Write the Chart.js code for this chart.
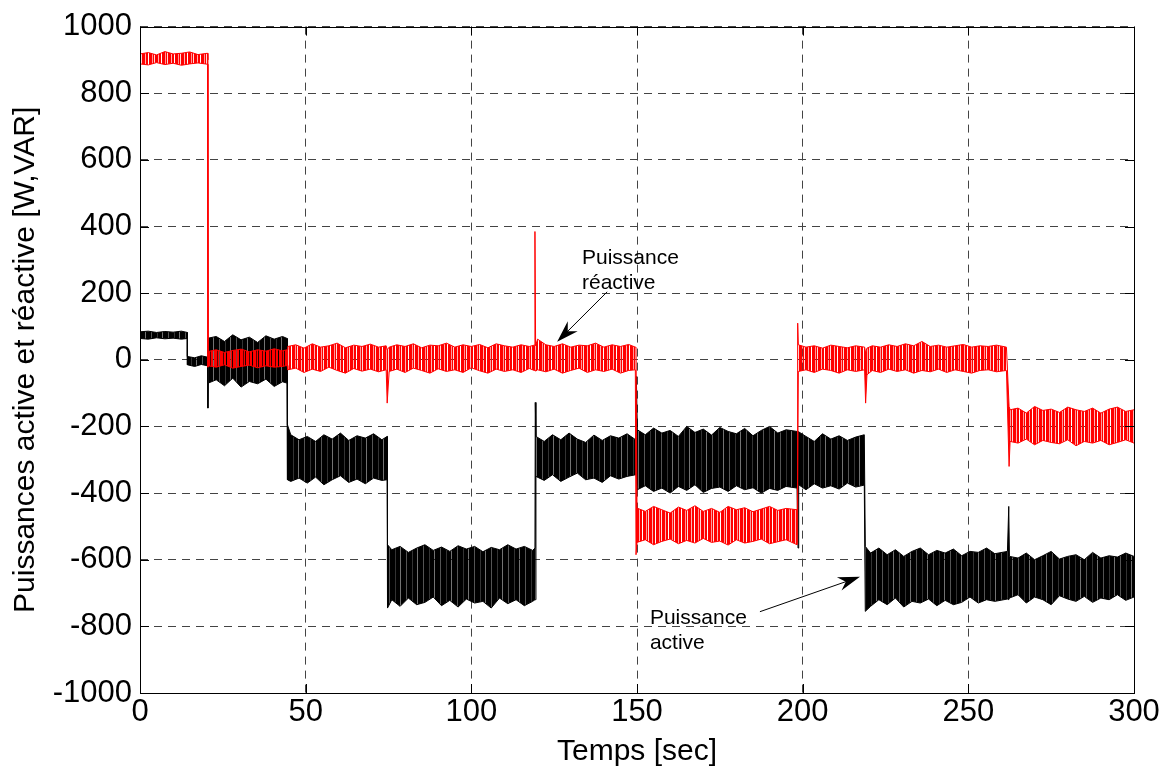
<!DOCTYPE html>
<html>
<head>
<meta charset="utf-8">
<script src="https://cdn.jsdelivr.net/npm/chart.js@4"></script>
<style>
	html, body { margin: 0; background: #fff; }
</style>
</head>
<body>
<canvas id="power-chart" width="1166" height="772"></canvas>
<script>
// axis ticks
const xTicks = [0, 50, 100, 150, 200, 250, 300];
const yTicks = [-1000, -800, -600, -400, -200, 0, 200, 400, 600, 800, 1000];

// Puissance active (black): noise band read as upper / lower envelope, [s] and [W]
const activeTime = [
	0, 2.5, 5, 7.5, 10, 12.5, 14.3,
	14.3, 16.5, 18.5, 20.4,
	20.5,
	20.6, 23, 25.5, 28, 30.5, 33, 35.5, 38, 40.5, 43, 44.4,
	44.5, 45.5, 48, 50.5, 53, 55.5, 58, 60.5, 63, 65.5, 68, 70.5, 73, 74.6,
	74.7, 76, 78.5, 81, 83.5, 86, 88.5, 91, 93.5, 96, 98.5, 101, 103.5, 106, 108.5, 111, 113.5, 116, 118.5, 119.2,
	119.3,
	119.5, 122, 124.5, 127, 129.5, 132, 134.5, 137, 139.5, 142, 144.5, 147, 149.6,
	149.8,
	150.1, 152.5, 155, 157.5, 160, 162.5, 165, 167.5, 170, 172.5, 175, 177.5, 180, 182.5, 185, 187.5, 190, 192.5, 195, 198.3,
	198.6,
	198.8, 201, 203.5, 206, 208.5, 211, 213.5, 216, 218.6,
	218.9, 220.5, 223, 225.5, 228, 230.5, 233, 235.5, 238, 240.5, 243, 245.5, 248, 250.5, 253, 255.5, 258, 261.8,
	262.2,
	262.4, 265, 267.5, 270, 272.5, 275, 277.5, 280, 282.5, 285, 287.5, 290, 292.5, 295, 297.5, 300
];
const activeHigh = [
	84, 86, 82, 85, 83, 86, 82,
	10, 6, 12, 8,
	8,
	65, 70, 55, 75, 60, 68, 52, 72, 62, 70, 64,
	-195, -225, -240, -230, -245, -225, -238, -220, -242, -228, -235, -222, -240, -230,
	-555, -570, -560, -578, -565, -555, -572, -562, -575, -558, -568, -560, -576, -563, -570, -555, -568, -560, -572, -565,
	-128,
	-230, -245, -225, -240, -220, -238, -248, -226, -242, -228, -235, -222, -240,
	-50,
	-210, -225, -205, -220, -212, -230, -200, -218, -208, -226, -203, -215, -222, -206, -228, -212, -200, -220, -210, -215,
	-215,
	-215, -230, -245, -222, -238, -228, -242, -232, -225,
	-560, -580, -565, -585, -570, -590, -575, -565, -585, -572, -580, -568, -588, -575, -578, -565, -582, -575,
	-440,
	-590, -595, -580, -600, -588, -575, -598, -590, -585, -600, -578, -595, -588, -592, -580, -590
];
const activeLow = [
	64, 62, 66, 63, 65, 62, 64,
	-15, -20, -14, -18,
	-145,
	-70, -60, -78, -55, -82, -65, -72, -58, -80, -66, -70,
	-360, -365, -355, -370, -352, -375, -360, -348, -368, -358, -372, -355, -362, -360,
	-745, -720, -740, -715, -735, -728, -712, -738, -722, -742, -718, -730, -725, -745, -715, -732, -720, -738, -725, -720,
	-720,
	-350, -362, -345, -365, -352, -340, -360, -355, -368, -348, -358, -350, -345,
	-345,
	-390, -378, -395, -385, -400, -380, -392, -375, -398, -386, -382, -395, -378, -390, -384, -400, -386, -392, -380, -385,
	-565,
	-375, -390, -372, -385, -378, -388, -370, -382, -376,
	-755, -740, -720, -735, -715, -742, -725, -730, -718, -738, -722, -735, -728, -712, -730, -720, -725, -718,
	-720,
	-715, -705, -730, -712, -720, -735, -708, -718, -725, -710, -728, -715, -720, -705, -722, -712
];

// Puissance réactive (red), [s] and [VAR]
const reactiveTime = [
	0, 2.5, 5, 7.5, 10, 12.5, 15, 17.5, 20.4,
	20.5,
	20.6, 23, 25.5, 28, 30.5, 33, 35.5, 38, 40.5, 43, 44.4,
	44.6, 47, 49.5, 52, 54.5, 57, 59.5, 62, 64.5, 67,
	69.5, 72, 74.3, 74.6, 75.2, 77.5, 80, 82.5, 85, 87.5,
	90, 92.5, 95, 97.5, 100, 102.5, 105, 107.5, 110, 112.5,
	115, 117.5, 119, 119.2, 119.4, 120, 122.5, 125, 127.5, 130,
	132.5, 135, 137.5, 140, 142.5, 145, 147.5, 149.5,
	149.7,
	150, 152.5, 155, 157.5, 160, 162.5, 165, 167.5, 170, 172.5, 175, 177.5, 180, 182.5, 185, 187.5, 190, 192.5, 195, 198.3,
	198.5,
	198.7, 201, 203.5, 206, 208.5, 211, 213.5, 216, 218.7, 219,
	219.4, 221, 223.5, 226, 228.5, 231, 233.5, 236, 238.5, 241,
	243.5, 246, 248.5, 251, 253.5, 256, 258.5, 261.5,
	262.3,
	262.6, 265, 267.5, 270, 272.5, 275, 277.5, 280, 282.5, 285, 287.5, 290, 292.5, 295, 297.5, 300
];
const reactiveHigh = [
	918, 922, 915, 925, 918, 920, 924, 916, 920,
	900,
	25, 30, 22, 28, 32, 24, 30, 26, 33, 27, 30,
	40, 45, 35, 48, 38, 42, 50, 36, 44, 40,
	47, 38, 42, 30, 38, 45, 40, 48, 36, 44,
	42, 50, 38, 45, 40, 46, 36, 48, 42, 38,
	45, 40, 44, 385, 42, 62, 45, 40, 48, 38,
	44, 42, 50, 38, 45, 40, 46, 38,
	38,
	-445, -455, -440, -450, -460, -442, -452, -438, -455, -446, -458, -440, -450, -444, -456, -448, -440, -452, -446, -450,
	110,
	45, 38, 42, 35, 44, 40, 36, 42, 38, 20,
	35, 42, 38, 45, 40, 48, 42, 55, 40, 44,
	38, 42, 46, 38, 42, 40, 44, 38,
	-140,
	-150, -145, -160, -140, -152, -148, -158, -142, -150, -155, -145, -160, -148, -142, -155, -150
];
const reactiveLow = [
	888, 885, 892, 886, 890, 884, 888, 891, 887,
	-22,
	-18, -22, -15, -25, -20, -16, -24, -18, -22, -20, -17,
	-30, -25, -38, -28, -35, -22, -32, -40, -26, -34,
	-28, -36, -30, -130, -35, -28, -38, -25, -32, -40,
	-27, -35, -30, -38, -24, -33, -40, -28, -35, -30,
	-38, -26, -32, -30, -34, -30, -36, -28, -40, -32,
	-25, -38, -30, -35, -28, -40, -32, -30,
	-585,
	-548, -540, -555, -545, -538, -552, -542, -550, -536, -548, -544, -556, -540, -550, -545, -538, -552, -546, -540, -555,
	-555,
	-35, -30, -38, -28, -32, -40, -30, -35, -30, -130,
	-45, -32, -38, -28, -35, -30, -40, -32, -36, -28,
	-38, -30, -35, -40, -32, -30, -36, -32,
	-320,
	-245, -250, -238, -255, -242, -248, -252, -240, -258, -245, -250, -242, -255, -248, -240, -250
];

// text labels with arrows, in data units: [time, value]
const notes = [
	{ lines: ['Puissance', 'réactive'], at: [133.4, 306], from: [141, 204], to: [125.9, 54] },
	{ lines: ['Puissance', 'active'], at: [153.9, -777], from: [187.1, -756], to: [217.3, -651] }
];

const FONT = "'Liberation Sans', Arial, Helvetica, sans-serif";
const canvas = document.getElementById('power-chart');
const ctx = canvas.getContext('2d');

// vertical streaks so the filled bands look like dense noisy traces
function streaks(cols) {
	const c = document.createElement('canvas');
	c.width = cols.length;
	c.height = 1;
	const g = c.getContext('2d');
	cols.forEach((col, i) => {
		g.fillStyle = col;
		g.fillRect(i, 0, 1, 1);
	});
	return ctx.createPattern(c, 'repeat');
}
const K = '#000', R = '#f00';
const blackFill = streaks([K, K, K, K, '#333', K, K, K, K, 'rgba(0,0,0,0.55)', K, K, K, K, K, '#555', K]);
const redFill = streaks([R, R, 'rgba(255,0,0,0.3)', R, R, 'rgba(255,0,0,0)', R, R, R, 'rgba(255,0,0,0.4)', R, 'rgba(255,0,0,0.15)', R]);

const pts = (t, v) => t.map((x, i) => ({ x, y: v[i] }));
const band = (color, order) => ({ borderColor: color, borderWidth: 1, pointRadius: 0, tension: 0, order });

const frame = {
	id: 'frame',
	afterDatasetsDraw(chart) {
		const { ctx, chartArea: a, scales: { x, y } } = chart;
		ctx.save();
		ctx.strokeStyle = '#000';
		ctx.lineWidth = 1;
		ctx.beginPath();
		xTicks.forEach((v) => {
			const px = Math.round(x.getPixelForValue(v)) + 0.5;
			ctx.moveTo(px, a.bottom); ctx.lineTo(px, a.bottom - 9);
			ctx.moveTo(px, a.top); ctx.lineTo(px, a.top + 9);
		});
		yTicks.forEach((v) => {
			const py = Math.round(y.getPixelForValue(v)) + 0.5;
			ctx.moveTo(a.left, py); ctx.lineTo(a.left + 9, py);
			ctx.moveTo(a.right, py); ctx.lineTo(a.right - 9, py);
		});
		ctx.stroke();
		ctx.strokeRect(Math.round(a.left) + 0.5, Math.round(a.top) + 0.5, Math.round(a.right - a.left), Math.round(a.bottom - a.top));

		// annotations
		ctx.fillStyle = '#000';
		ctx.font = '21px ' + FONT;
		ctx.textBaseline = 'middle';
		ctx.textAlign = 'left';
		notes.forEach((n) => {
			const tx = x.getPixelForValue(n.at[0]);
			const ty = y.getPixelForValue(n.at[1]);
			n.lines.forEach((s, i) => ctx.fillText(s, tx, ty + i * 25));
			const x0 = x.getPixelForValue(n.from[0]), y0 = y.getPixelForValue(n.from[1]);
			const x1 = x.getPixelForValue(n.to[0]), y1 = y.getPixelForValue(n.to[1]);
			const ang = Math.atan2(y1 - y0, x1 - x0);
			const ux = Math.cos(ang), uy = Math.sin(ang);
			ctx.beginPath();
			ctx.moveTo(x0, y0);
			ctx.lineTo(x1 - ux * 12, y1 - uy * 12);
			ctx.stroke();
			ctx.beginPath();
			ctx.moveTo(x1, y1);
			ctx.lineTo(x1 - ux * 22 - uy * 7, y1 - uy * 22 + ux * 7);
			ctx.lineTo(x1 - ux * 15, y1 - uy * 15);
			ctx.lineTo(x1 - ux * 22 + uy * 7, y1 - uy * 22 - ux * 7);
			ctx.closePath();
			ctx.fill();
		});
		ctx.restore();
	}
};

const chart = new Chart(ctx, {
	type: 'line',
	data: {
		datasets: [
			{ ...band(K, 2), data: pts(activeTime, activeLow), fill: false },
			{ ...band(K, 2), data: pts(activeTime, activeHigh), fill: '-1', backgroundColor: blackFill },
			{ ...band(R, 1), data: pts(reactiveTime, reactiveLow), fill: false },
			{ ...band(R, 1), data: pts(reactiveTime, reactiveHigh), fill: '-1', backgroundColor: redFill }
		]
	},
	options: {
		responsive: false,
		animation: false,
		events: [],
		layout: { padding: { left: 0, right: 32, top: 26, bottom: 0 } },
		plugins: { legend: { display: false }, tooltip: { enabled: false } },
		scales: {
			x: {
				type: 'linear',
				min: 0,
				max: 300,
				afterBuildTicks: (s) => { s.ticks = xTicks.map((value) => ({ value })); },
				afterFit: (s) => { s.height = 79; },
				ticks: { callback: (v) => String(v), color: '#000', padding: 1, maxRotation: 0, autoSkip: false, font: { family: FONT, size: 31 } },
				grid: { color: '#444', lineWidth: 1, drawTicks: false },
				border: { display: false, dash: [8, 6] },
				title: { display: true, text: 'Temps [sec]', color: '#000', font: { family: FONT, size: 30 }, padding: { top: 0, bottom: 2 } }
			},
			y: {
				type: 'linear',
				min: -1000,
				max: 1000,
				afterBuildTicks: (s) => { s.ticks = yTicks.map((value) => ({ value })); },
				afterFit: (s) => { s.width = 140; },
				ticks: { callback: (v) => String(v), color: '#000', padding: 8, autoSkip: false, font: { family: FONT, size: 31 } },
				grid: { color: '#444', lineWidth: 1, drawTicks: false },
				border: { display: false, dash: [8, 6] },
				title: { display: true, text: 'Puissances active et réactive [W,VAR]', color: '#000', font: { family: FONT, size: 30 }, padding: { top: 8, bottom: 0 } }
			}
		}
	},
	plugins: [frame]
});
</script>
</body>
</html>
